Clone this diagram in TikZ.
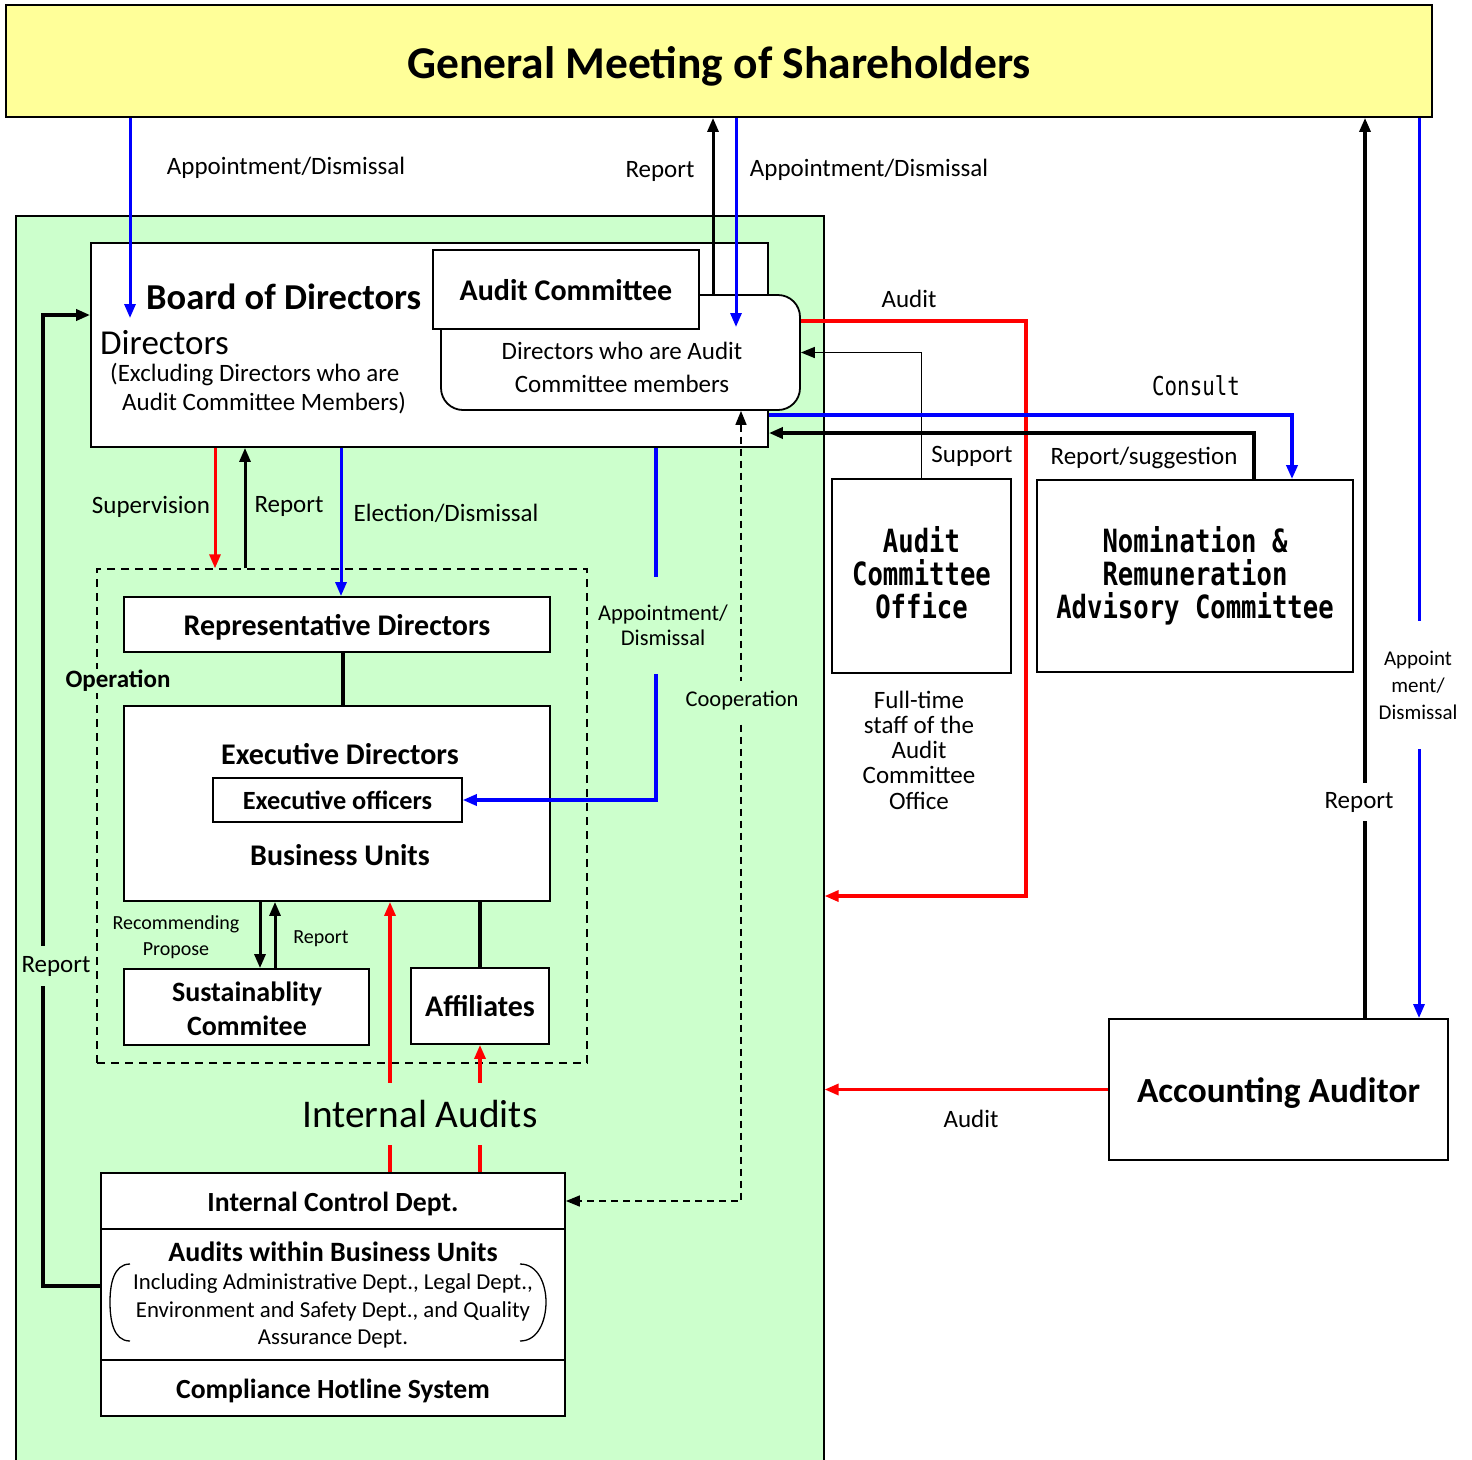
\documentclass[tikz,border=0pt]{standalone}
\usepackage{fontspec}
\setmainfont{Carlito}
\newfontfamily\gothic[FakeStretch=0.8]{DejaVu Sans Mono}
\usetikzlibrary{arrows.meta}
\definecolor{gmyellow}{HTML}{FFFF99}
\definecolor{opgreen}{HTML}{CCFFCC}
\definecolor{rd}{HTML}{FF0000}
\definecolor{bl}{HTML}{0000FF}
\newcommand\fsz[2]{\fontsize{#1pt}{#2pt}\selectfont}
\begin{document}
\begin{tikzpicture}[x=1pt,y=-1pt,
  box/.style={draw, line width=1.8pt, fill=white, inner sep=0pt, align=center},
  lbl/.style={font=\fsz{25}{30}, inner sep=1pt, align=center},
  arr/.style={-{Triangle[length=14pt,width=11pt]}},
  tipboth/.style={{Triangle[length=14pt,width=11pt]}-{Triangle[length=14pt,width=11pt]}},
  txt/.style={inner sep=0pt, align=center},
  vc/.style 2 args={text height=#1pt, text depth=#2pt}
]
\useasboundingbox (0,0) rectangle (1472,1459);
\fill[white] (0,0) rectangle (1472,1459);

% ---------- containers ----------
\node[box, fill=gmyellow, minimum width=1426pt, minimum height=112pt, font=\bfseries\fsz{45.5}{50}, vc={36}{2}] (gm) at (719,61) {General Meeting of Shareholders};
\node[draw, line width=1.2pt, fill=opgreen, minimum width=808pt, minimum height=1254pt, inner sep=0pt] (grn) at (420,843) {};
\node[draw, dashed, line width=1.3pt, dash pattern=on 8pt off 6pt, minimum width=490pt, minimum height=494pt, inner sep=0pt] (ops) at (342,816) {};

% ---------- board ----------
\node[box, minimum width=677pt, minimum height=204pt] (brd) at (429.5,345) {};
\node[txt, anchor=west, font=\bfseries\fsz{36.5}{40}] (bodt) at (146,297) {Board of Directors};
\node[txt, anchor=west, font=\fsz{35}{40}] (dirt) at (100,343) {Directors};
\node[txt, anchor=west, font=\fsz{25}{28}] (ex1) at (110,375) {(Excluding Directors who are};
\node[txt, anchor=west, font=\fsz{25}{28}] (ex2) at (122,403) {Audit Committee Members)};
\node[box, rounded corners=22pt, minimum width=359pt, minimum height=115pt] (acm) at (620.5,352.5) {};
\node[txt, font=\fsz{25}{33}] (acmt) at (622,367) {Directors who are Audit\\Committee members};
\node[box, minimum width=266pt, minimum height=79pt, font=\bfseries\fsz{30}{36}, vc={23.5}{1.5}] (ach) at (566,289.5) {Audit Committee};

% ---------- operation ----------
\node[box, minimum width=426pt, minimum height=55pt, font=\bfseries\fsz{30}{36}, vc={24}{1.5}] (rep) at (337,624.5) {Representative Directors};
\node[box, minimum width=426pt, minimum height=195pt] (exe) at (337,803.5) {};
\node[txt, font=\bfseries\fsz{30}{36}] (exet) at (340,754) {Executive Directors};
\node[box, line width=1.5pt, minimum width=249pt, minimum height=44pt, font=\bfseries\fsz{26.3}{30}, vc={20}{1.3}] (eo) at (337.5,800) {Executive officers};
\node[txt, font=\bfseries\fsz{30}{36}] (but) at (340,855) {Business Units};
\node[box, minimum width=245pt, minimum height=76pt, font=\bfseries\fsz{28}{34}] (sus) at (246.5,1007) {};
\node[txt, font=\bfseries\fsz{28}{34}] (sust) at (247,1009) {Sustainablity\\Commitee};
\node[box, minimum width=138pt, minimum height=76pt, font=\bfseries\fsz{30}{36}, vc={22.5}{1.5}] (aff) at (480,1006) {Affiliates};

% ---------- internal control ----------
\node[box, minimum width=464pt, minimum height=56pt, font=\bfseries\fsz{27.7}{32}, vc={21.5}{1.4}] (icd) at (333,1201) {Internal Control Dept.};
\node[box, minimum width=464pt, minimum height=131pt] (abu) at (333,1294.5) {};
\node[txt, font=\bfseries\fsz{28}{32}] (abut) at (333,1252) {Audits within Business Units};
\node[txt, font=\fsz{22.8}{27.5}] (abud) at (333,1311) {Including Administrative Dept., Legal Dept.,\\Environment and Safety Dept., and Quality\\Assurance Dept.};
\node[box, minimum width=464pt, minimum height=56pt, font=\bfseries\fsz{27.7}{32}, vc={21.5}{1.4}] (chs) at (333,1388) {Compliance Hotline System};
\draw[line width=1.3pt] (130,1264) to[out=180,in=90] (110,1302) to[out=-90,in=180] (130,1341);
\draw[line width=1.3pt] (520,1264) to[out=0,in=90] (546,1302) to[out=-90,in=0] (520,1341);

% ---------- right side ----------
\node[box, minimum width=179pt, minimum height=194pt] (aco) at (921.5,576) {};
\node[txt, font=\gothic\bfseries\fsz{32}{33}] (acot) at (921.5,573) {Audit\\Committee\\Office};
\node[box, minimum width=316pt, minimum height=192pt, font=\gothic\bfseries\fsz{32}{33}] (nom) at (1195,576) {Nomination \&\\Remuneration\\Advisory Committee};
\node[txt, font=\fsz{25}{25.3}] (fts) at (919,750) {Full-time\\staff of the\\Audit\\Committee\\Office};
\node[box, minimum width=339pt, minimum height=141pt, font=\bfseries\fsz{35.3}{40}, vc={28}{1.8}] (aa) at (1278.5,1089.5) {Accounting Auditor};

% ---------- coordinates ----------
\coordinate (pA) at (130,318);
\coordinate (pB) at (713,0);
\coordinate (pC) at (736,327);
\coordinate (pD) at (1026,321);
\coordinate (pE) at (1026,896);
\coordinate (pF) at (1365,0);
\coordinate (pG) at (1419,0);
\coordinate (pH) at (215,0);
\coordinate (pI) at (245,0);
\coordinate (pJ) at (341,0);
\coordinate (pK) at (656,0);
\coordinate (pL) at (741,0);
\coordinate (pM) at (343,0);
\coordinate (pN) at (260,0);
\coordinate (pO) at (275,0);
\coordinate (pP) at (390,0);
\coordinate (pQ) at (43,315);

% ---------- connectors ----------
\draw[bl, line width=3pt, arr] (gm.south -| pA) -- (pA);
\draw[line width=3pt, arr] (acm.north -| pB) -- (gm.south -| pB);
\draw[bl, line width=3pt, arr] (gm.south -| pC) -- (pC);
\draw[rd, line width=3.2pt, arr] (acm.east |- pD) -- (pD) -- (pE) -- (grn.east |- pE);
\draw[line width=1.6pt, arr] (aco.north) |- (acm.east);
\draw[bl, line width=3.5pt, arr] ([yshift=-70pt]brd.east) -| ([xshift=97pt]nom.north);
\draw[line width=4pt, arr] ([xshift=59pt]nom.north) |- ([yshift=-88pt]brd.east);
\draw[line width=3.2pt, arr] (aa.north -| pF) -- (gm.south -| pF);
\draw[bl, line width=3pt, arr] (gm.south -| pG) -- (aa.north -| pG);
\draw[rd, line width=3.2pt, arr] (aa.west) -- (grn.east |- aa.west);

\draw[rd, line width=3pt, arr] (brd.south -| pH) -- (ops.north -| pH);
\draw[line width=3pt, arr] (ops.north -| pI) -- (brd.south -| pI);
\draw[bl, line width=3pt, arr] (brd.south -| pJ) -- (rep.north -| pJ);
\draw[bl, line width=3.2pt, arr] (brd.south -| pK) |- (eo.east);
\draw[line width=1.6pt, dashed, dash pattern=on 7pt off 5pt, tipboth] (acm.south -| pL) |- (icd.east);
\draw[line width=3.2pt] (rep.south -| pM) -- (exe.north -| pM);
\draw[line width=3pt, arr] (exe.south -| pN) -- (sus.north -| pN);
\draw[line width=3pt, arr] (sus.north -| pO) -- (exe.south -| pO);
\draw[line width=3.2pt] (exe.south -| aff.north) -- (aff.north);
\draw[rd, line width=3.2pt, arr] (icd.north -| pP) -- (exe.south -| pP);
\draw[rd, line width=3.2pt, arr] (icd.north -| aff.south) -- (aff.south);
\draw[line width=4pt, arr] ([yshift=8.5pt]abu.west) -| (pQ) -- (brd.west |- pQ);

% ---------- labels ----------
\node[lbl] (l1) at (286,168) {Appointment/Dismissal};
\node[lbl] (l2) at (660,171) {Report};
\node[lbl] (l3) at (869,170) {Appointment/Dismissal};
\node[lbl] (l4) at (909,299) {Audit};
\node[lbl, font=\gothic\fsz{26}{30}] (l5) at (1196,386) {Consult};
\node[lbl] (l6) at (972,456) {Support};
\node[lbl] (l7) at (1144,458) {Report/suggestion};
\node[lbl] (l8) at (151,507) {Supervision};
\node[lbl] (l9) at (289,506) {Report};
\node[lbl] (l10) at (446,513) {Election/Dismissal};
\node[lbl, font=\fsz{22.5}{25}, fill=opgreen, minimum height=97pt] (l11) at (663,625) {Appointment/\\Dismissal};
\node[lbl, font=\fsz{22.5}{25}, fill=opgreen, minimum height=40pt] (l12) at (742,701) {Cooperation};
\node[lbl, font=\bfseries\fsz{25}{30}, fill=opgreen] (l13) at (118,681) {Operation};
\node[lbl, font=\fsz{20}{26}] (l14) at (176,937) {Recommending\\Propose};
\node[lbl, font=\fsz{20}{24}] (l15) at (321,939) {Report};
\node[lbl, fill=opgreen, minimum height=40pt] (l16) at (56,966) {Report};
\node[lbl, font=\fsz{39.3}{44}, fill=opgreen, minimum height=62pt] (l17) at (420,1114) {Internal Audits};
\node[lbl, fill=white, minimum height=38pt] (l18) at (1359,802) {Report};
\node[lbl, font=\fsz{21}{27}, fill=white, minimum height=128pt] (l19) at (1418,685) {Appoint\\ment/\\Dismissal};
\node[lbl] (l20) at (971,1119) {Audit};
\end{tikzpicture}
\end{document}
